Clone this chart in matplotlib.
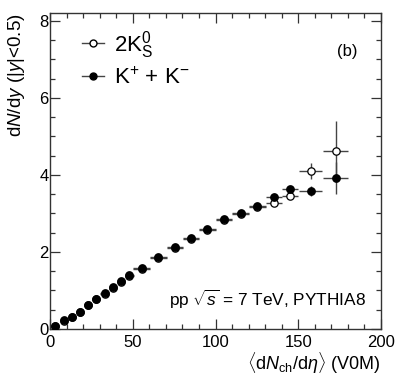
import numpy as np
import matplotlib
matplotlib.use("Agg")
import matplotlib.pyplot as plt
from matplotlib.ticker import MultipleLocator
from matplotlib.lines import Line2D

plt.rcParams["font.family"] = ["Liberation Sans", "DejaVu Sans"]
plt.rcParams["mathtext.fontset"] = "custom"
plt.rcParams["mathtext.rm"] = "Liberation Sans"
plt.rcParams["mathtext.it"] = "Liberation Sans:italic"
plt.rcParams["mathtext.bf"] = "Liberation Sans:bold"

# <dNch/deta> (V0M) classes
x = [3, 8.5, 13.3, 18, 23, 28, 33, 38, 43, 48, 55.4, 65.5, 75.5, 85.2, 95,
     105, 115.2, 125.3, 135.3, 145, 157.5, 172.6]
xerr = [2.5] * 10 + [5] * 10 + [7, 7.5]

# K+ + K-
kch = [0.08, 0.23, 0.32, 0.45, 0.63, 0.78, 0.93, 1.08, 1.24, 1.39, 1.59, 1.86,
       2.12, 2.36, 2.59, 2.85, 3.02, 3.19, 3.42, 3.64, 3.58, 3.92]
kch_err = [0.01] * 18 + [0.03, 0.05, 0.14, 0.42]

# 2 K0s
k0s = [0.07, 0.22, 0.31, 0.44, 0.62, 0.77, 0.92, 1.07, 1.23, 1.38, 1.57, 1.84,
       2.10, 2.33, 2.56, 2.83, 2.99, 3.16, 3.28, 3.45, 4.10, 4.62]
k0s_err = [0.01] * 18 + [0.05, 0.05, 0.21, 0.79]

fig = plt.figure(figsize=(3.95, 3.79), dpi=100)
ax = fig.add_axes([0.1266, 0.1319, 0.838, 0.8338])

ecol = "#444444"
ax.errorbar(x, k0s, xerr=xerr, yerr=k0s_err, fmt="o", ms=5.3, mfc="white",
            mec="black", mew=0.9, ecolor=ecol, elinewidth=1.0, capsize=0, zorder=3)
ax.errorbar(x, kch, xerr=xerr, yerr=kch_err, fmt="o", ms=5.3, mfc="black",
            mec="black", ecolor=ecol, elinewidth=1.0, capsize=0, zorder=4)

ax.set_xlim(0, 200)
ax.set_ylim(0, 8.2)
ax.xaxis.set_major_locator(MultipleLocator(50))
ax.xaxis.set_minor_locator(MultipleLocator(10))
ax.yaxis.set_major_locator(MultipleLocator(2))
ax.yaxis.set_minor_locator(MultipleLocator(0.5))
ax.tick_params(which="both", direction="in", top=True, right=True,
               color="#333333", labelsize=12)
ax.tick_params(which="major", length=7, width=0.9)
ax.tick_params(which="minor", length=3.5, width=0.9)
ax.tick_params(axis="y", pad=1)
ax.tick_params(axis="x", pad=4)
for s in ax.spines.values():
    s.set_color("#333333")
    s.set_linewidth(1.0)

ax.set_xlabel(r"$\langle$d$N_{\rm ch}$/d$\eta\rangle$ (V0M)", fontsize=13,
              loc="right")
ax.xaxis.label.set_va("baseline")
ax.xaxis.set_label_coords(1.0, -0.13)
ax.set_ylabel(r"d$N$/d$y$ (|$y$|<0.5)", fontsize=13.5, loc="top")
ax.yaxis.set_label_coords(-0.07, 1.0)

ax.text(0.897, 0.877, "(b)", transform=ax.transAxes, fontsize=12,
        ha="center", va="center")
ax.text(0.954, 0.073, r"pp $\sqrt{s}$ = 7 TeV, PYTHIA8", transform=ax.transAxes,
        fontsize=12.4, ha="right", va="baseline")

handles = [
    Line2D([], [], color=ecol, lw=1.0, marker="o", ms=5, mfc="white", mec="black"),
    Line2D([], [], color=ecol, lw=1.0, marker="o", ms=5, mfc="black", mec="black"),
]
ax.legend(handles, [r"2K$^{0}_{\rm S}$", r"K$^{+}$ + K$^{-}$"], loc="upper left",
          bbox_to_anchor=(0.062, 0.985), frameon=False, fontsize=16,
          handlelength=1.0, handletextpad=0.45, labelspacing=0.3, borderpad=0)

fig.savefig("out.png", dpi=100)
